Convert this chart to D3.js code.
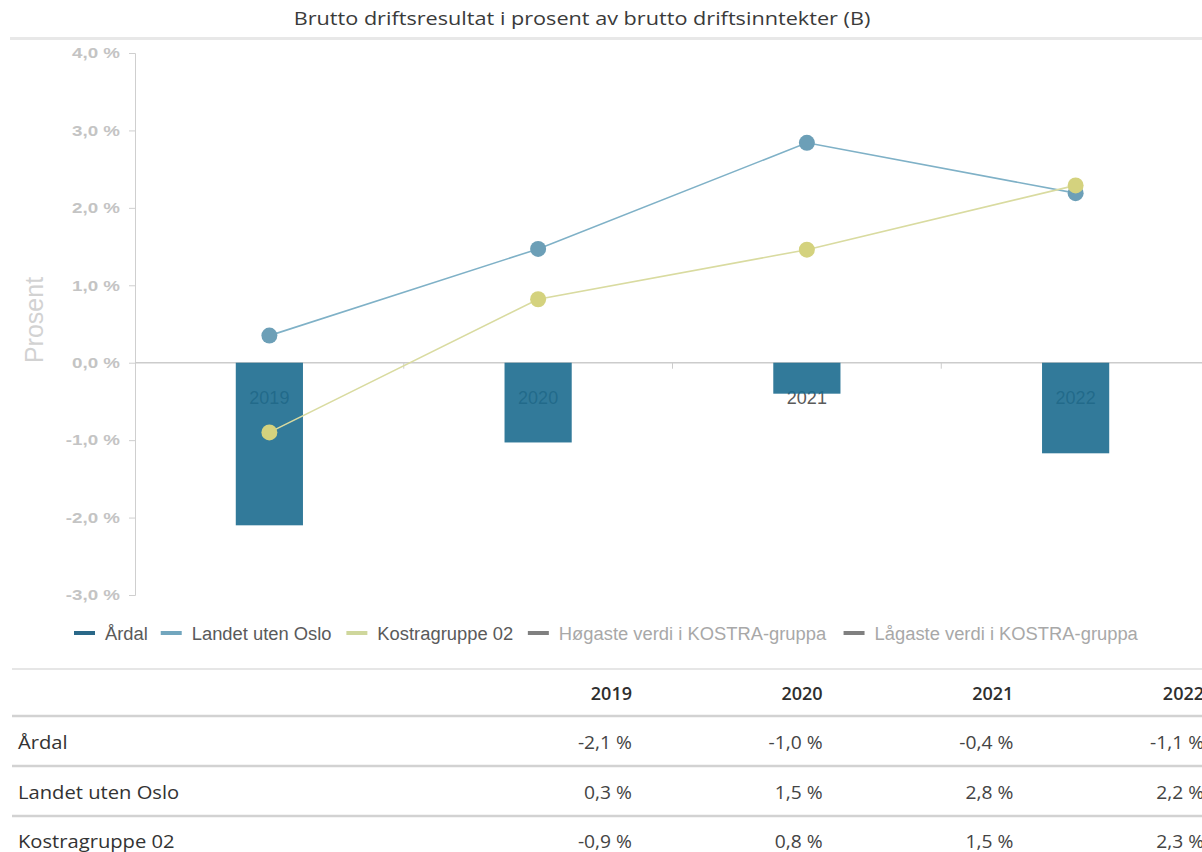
<!DOCTYPE html>
<html><head><meta charset="utf-8">
<script src="https://cdn.jsdelivr.net/npm/d3@7"></script>
<style>
html,body{margin:0;padding:0;background:#fff;overflow:hidden}
svg{display:block}
</style></head>
<body>
<svg id="c" width="1202" height="852"></svg>
<script>
// ---- data ----
const years = ["2019", "2020", "2021", "2022"];
const ardal = [-2.1, -1.03, -0.4, -1.17];
const landet = [0.35, 1.47, 2.84, 2.19];
const kostra = [-0.9, 0.82, 1.46, 2.29];
const yTicks = [4, 3, 2, 1, 0, -1, -2, -3];
const legendNames = ["Årdal", "Landet uten Oslo", "Kostragruppe 02", "Høgaste verdi i KOSTRA-gruppa", "Lågaste verdi i KOSTRA-gruppa"];
const rowNames = ["Årdal", "Landet uten Oslo", "Kostragruppe 02"];
const tableArdal = [-2.1, -1.0, -0.4, -1.1];
const tableLandet = [0.3, 1.5, 2.8, 2.2];
const tableKostra = [-0.9, 0.8, 1.5, 2.3];
const title = "Brutto driftsresultat i prosent av brutto driftsinntekter (B)";
const yLabel = "Prosent";

// ---- setup ----
const svg = d3.select("#c");
function stretch(sel, k) {
  sel.each(function () {
    const w = this.getComputedTextLength();
    d3.select(this).attr("textLength", w * k).attr("lengthAdjust", "spacingAndGlyphs");
  });
  return sel;
}
const fmt = d => (d < 0 ? "-" : "") + Math.abs(d).toFixed(1).replace(".", ",") + " %";
const ARIAL = "Liberation Sans, Arial, sans-serif";
const OPEN = "Open Sans, sans-serif";

// title
stretch(svg.append("text").attr("x", 582).attr("y", 25).attr("text-anchor", "middle")
  .attr("font-family", OPEN).attr("font-size", 18.5).attr("fill", "#3a3a3a").text(title), 1.17);
svg.append("line").attr("x1", 10).attr("x2", 1202).attr("y1", 38.5).attr("y2", 38.5)
  .attr("stroke", "#e8e8e8").attr("stroke-width", 3);

// scales
const y = d3.scaleLinear().domain([-3, 4]).range([595, 53]);
const x = d3.scaleBand().domain(years).range([135, 1210]).padding(0);
const barW = x.bandwidth() * 0.25;
const cx = d => x(d) + x.bandwidth() / 2;

// y axis
const yAxis = svg.append("g").attr("transform", "translate(135,0)")
  .call(d3.axisLeft(y).tickValues(yTicks).tickSize(6).tickPadding(9).tickFormat(fmt));
yAxis.select(".domain").attr("stroke", "#cfcfcf");
yAxis.selectAll(".tick line").attr("stroke", "#cfcfcf");
yAxis.selectAll(".tick text").attr("fill", "#c4c4c4").attr("font-family", ARIAL)
  .attr("font-size", 15).attr("font-weight", "bold").call(s => stretch(s, 1.25));

// y label
svg.append("text").attr("transform", "translate(43,320) rotate(-90)").attr("text-anchor", "middle")
  .attr("font-family", ARIAL).attr("font-size", 25).attr("fill", "#d2d2d2").text(yLabel);

// zero line + x ticks at band boundaries
svg.append("line").attr("x1", 135).attr("x2", 1202).attr("y1", y(0)).attr("y2", y(0))
  .attr("stroke", "#cccccc").attr("stroke-width", 1.5);
svg.append("g").selectAll("line").data(years.slice(1)).join("line")
  .attr("x1", d => x(d)).attr("x2", d => x(d)).attr("y1", y(0)).attr("y2", y(0) + 6)
  .attr("stroke", "#cccccc");

// category labels (behind bars)
svg.append("g").selectAll("text").data(years).join("text")
  .attr("x", d => cx(d)).attr("y", y(0) + 41).attr("text-anchor", "middle")
  .attr("font-family", ARIAL).attr("font-size", 18).attr("fill", "#5a5a5a")
  .text(d => d);

// bars
svg.append("g").selectAll("rect").data(years).join("rect")
  .attr("x", d => cx(d) - barW / 2).attr("width", barW)
  .attr("y", (d, i) => Math.min(y(0), y(ardal[i])))
  .attr("height", (d, i) => Math.abs(y(ardal[i]) - y(0)))
  .attr("fill", "#1c6c8f").attr("opacity", 0.9);

// lines
const line = d3.line().x((d, i) => cx(years[i])).y(d => y(d));
function drawSeries(vals, lc, dc) {
  svg.append("path").datum(vals).attr("d", line).attr("fill", "none").attr("stroke", lc).attr("stroke-width", 1.6);
  svg.append("g").selectAll("circle").data(vals).join("circle")
    .attr("cx", (d, i) => cx(years[i])).attr("cy", d => y(d)).attr("r", 8).attr("fill", dc);
}
drawSeries(landet, "#7fb1c7", "#6c9fb7");
drawSeries(kostra, "#d9dba0", "#d4d27e");

// legend (flow layout)
const legendColors = ["#2a6888", "#72a6be", "#cfd79c", "#808080", "#808080"];
const legendText = ["#5a5a5a", "#5a5a5a", "#5a5a5a", "#a8a8a8", "#a8a8a8"];
const lg = svg.append("g");
let lx = 74;
legendNames.forEach((n, i) => {
  lg.append("line").attr("x1", lx).attr("x2", lx + 21).attr("y1", 633).attr("y2", 633)
    .attr("stroke", legendColors[i]).attr("stroke-width", 4);
  const t = lg.append("text").attr("x", lx + 31).attr("y", 639.5)
    .attr("font-family", ARIAL).attr("font-size", 18).attr("fill", legendText[i]).text(n);
  stretch(t, 1.02);
  lx = lx + 31 + t.node().getComputedTextLength() * 1.02 + 12;
});

// table
const tbl = svg.append("g");
tbl.append("line").attr("x1", 12).attr("x2", 1202).attr("y1", 669).attr("y2", 669).attr("stroke", "#e6e6e6").attr("stroke-width", 2);
const colX = years.map((d, i) => 632 + i * 190.7);
years.forEach((yr, i) => {
  stretch(tbl.append("text").attr("x", colX[i]).attr("y", 699.5).attr("text-anchor", "end")
    .attr("font-family", OPEN).attr("font-weight", 600).attr("font-size", 17.5).attr("fill", "#2e2e2e").text(yr), 1.03);
});
[716, 766, 816].forEach(yy => tbl.append("line").attr("x1", 12).attr("x2", 1202).attr("y1", yy).attr("y2", yy)
  .attr("stroke", "#d2d2d2").attr("stroke-width", 2.5));
const rows = [tableArdal, tableLandet, tableKostra];
const rowY = [748.5, 798.5, 847.5];
rows.forEach((vals, r) => {
  stretch(tbl.append("text").attr("x", 18).attr("y", rowY[r]).attr("font-family", OPEN)
    .attr("font-size", 18).attr("fill", "#333").text(rowNames[r]), 1.12);
  vals.forEach((v, i) => {
    stretch(tbl.append("text").attr("x", colX[i]).attr("y", rowY[r]).attr("text-anchor", "end")
      .attr("font-family", OPEN).attr("font-size", 17.5).attr("fill", "#444").text(fmt(v)), 1.1);
  });
});
</script>
</body></html>
